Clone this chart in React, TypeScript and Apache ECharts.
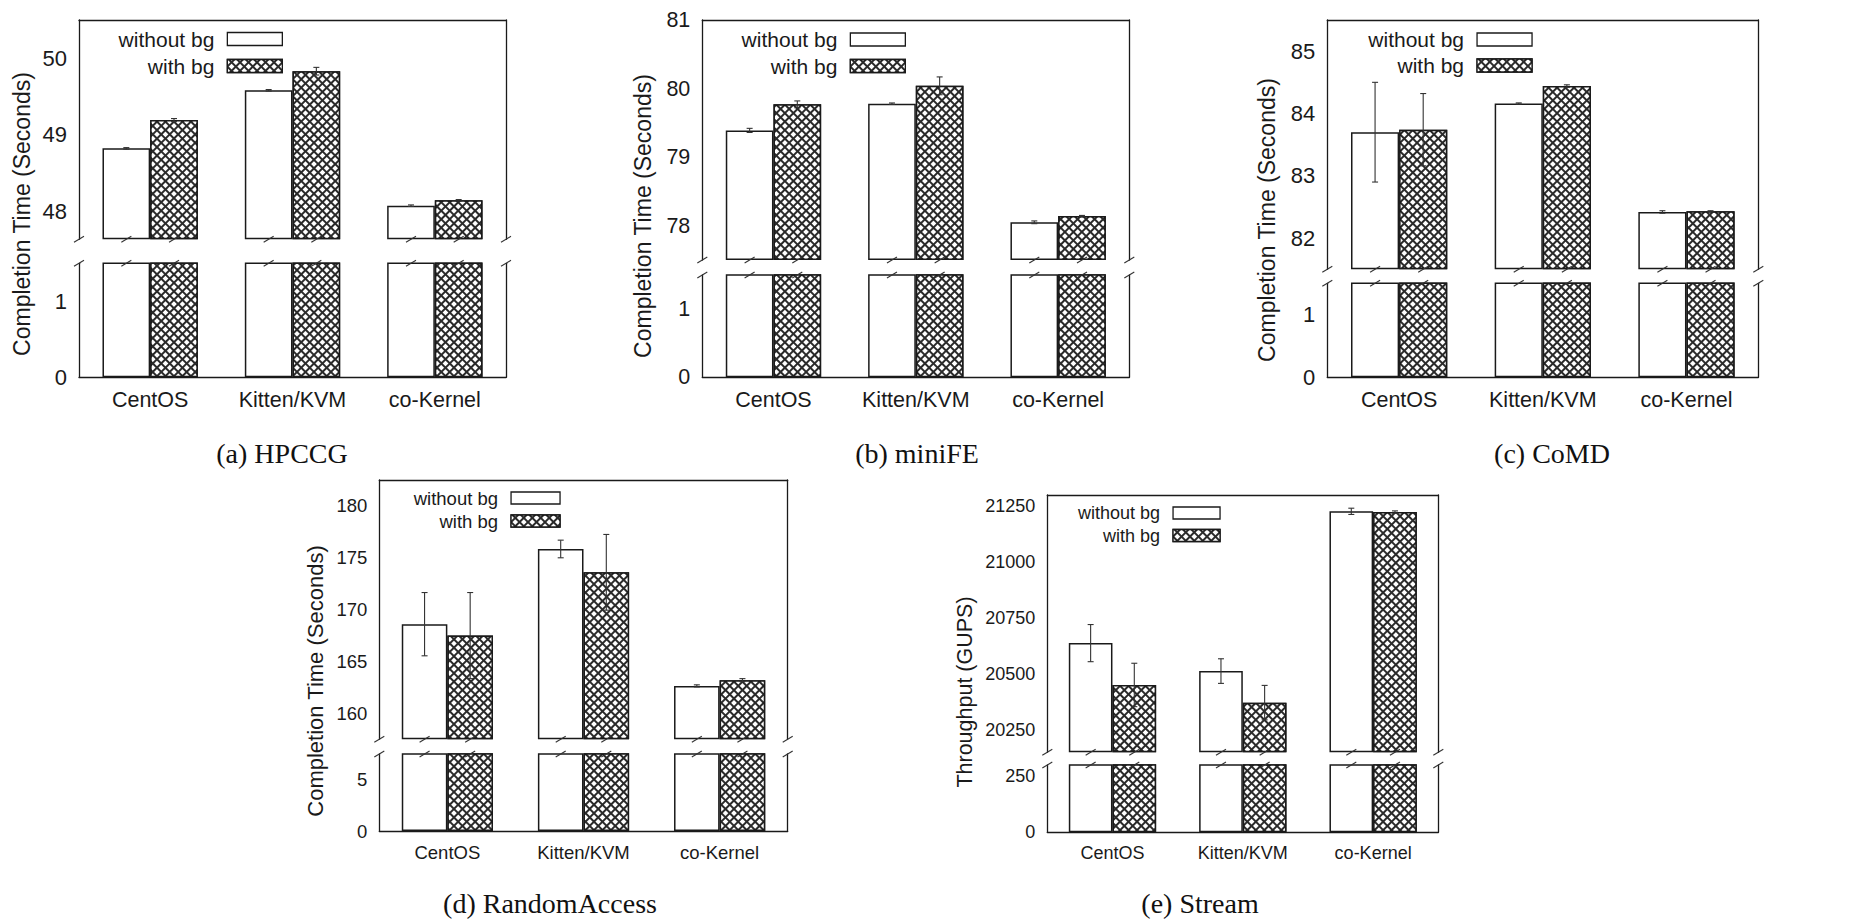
import React, { useEffect, useRef } from 'react';
import * as echarts from 'echarts';

// ---------- data ----------
const categories = ['CentOS', 'Kitten/KVM', 'co-Kernel'];
const seriesNames = ['without bg', 'with bg'];

// (a) HPCCG
const hpccgWithout = [48.82, 49.58, 48.07];
const hpccgWithoutErr = [0.01, 0.01, 0.01];
const hpccgWith = [49.19, 49.83, 48.14];
const hpccgWithErr = [0.02, 0.05, 0.01];
const hpccgUpperRange = [47.63, 50.5];
const hpccgLowerRange = [0, 1.5];
const hpccgUpperTicks = [48, 49, 50];
const hpccgLowerTicks = [0, 1];

// (b) miniFE
const minifeWithout = [79.39, 79.78, 78.05];
const minifeWithoutErr = [0.03, 0.01, 0.02];
const minifeWith = [79.77, 80.04, 78.14];
const minifeWithErr = [0.05, 0.13, 0.01];
const minifeUpperRange = [77.5, 81];
const minifeLowerRange = [0, 1.5];
const minifeUpperTicks = [78, 79, 80, 81];
const minifeLowerTicks = [0, 1];

// (c) CoMD
const comdWithout = [83.7, 84.16, 82.42];
const comdWithoutErr = [0.8, 0.01, 0.02];
const comdWith = [83.74, 84.44, 82.43];
const comdWithErr = [0.58, 0.02, 0.01];
const comdUpperRange = [81.5, 85.5];
const comdLowerRange = [0, 1.5];
const comdUpperTicks = [82, 83, 84, 85];
const comdLowerTicks = [0, 1];

// (d) RandomAccess
const raWithout = [168.6, 175.85, 162.65];
const raWithoutErr = [3.05, 0.85, 0.1];
const raWith = [167.5, 173.6, 163.2];
const raWithErr = [4.15, 3.65, 0.15];
const raUpperRange = [157.5, 182.5];
const raLowerRange = [0, 7.5];
const raUpperTicks = [160, 165, 170, 175, 180];
const raLowerTicks = [0, 5];

// (e) Stream
const streamWithout = [20638, 20513, 21227];
const streamWithoutErr = [83, 55, 14];
const streamWith = [20451, 20372, 21224];
const streamWithErr = [97, 77, 5];
const streamUpperRange = [20150, 21300];
const streamLowerRange = [0, 300];
const streamUpperTicks = [20250, 20500, 20750, 21000, 21250];
const streamLowerTicks = [0, 250];

const panels = [
  { caption: '(a) HPCCG', yTitle: 'Completion Time (Seconds)', without: hpccgWithout, withoutErr: hpccgWithoutErr, withBg: hpccgWith, withErr: hpccgWithErr, upperRange: hpccgUpperRange, lowerRange: hpccgLowerRange, upperTicks: hpccgUpperTicks, lowerTicks: hpccgLowerTicks },
  { caption: '(b) miniFE', yTitle: 'Completion Time (Seconds)', without: minifeWithout, withoutErr: minifeWithoutErr, withBg: minifeWith, withErr: minifeWithErr, upperRange: minifeUpperRange, lowerRange: minifeLowerRange, upperTicks: minifeUpperTicks, lowerTicks: minifeLowerTicks },
  { caption: '(c) CoMD', yTitle: 'Completion Time (Seconds)', without: comdWithout, withoutErr: comdWithoutErr, withBg: comdWith, withErr: comdWithErr, upperRange: comdUpperRange, lowerRange: comdLowerRange, upperTicks: comdUpperTicks, lowerTicks: comdLowerTicks },
  { caption: '(d) RandomAccess', yTitle: 'Completion Time (Seconds)', without: raWithout, withoutErr: raWithoutErr, withBg: raWith, withErr: raWithErr, upperRange: raUpperRange, lowerRange: raLowerRange, upperTicks: raUpperTicks, lowerTicks: raLowerTicks },
  { caption: '(e) Stream', yTitle: 'Throughput (GUPS)', without: streamWithout, withoutErr: streamWithoutErr, withBg: streamWith, withErr: streamWithErr, upperRange: streamUpperRange, lowerRange: streamLowerRange, upperTicks: streamUpperTicks, lowerTicks: streamLowerTicks },
];

// ---------- layout ----------
const W = 1873;
const H = 924;
const layouts = [
  { left: 79, right: 506, top: 20, upperBottom: 239.3, lowerTop: 263.3, bottom: 377.3, titleX: 22, titleY: 214, titleFs: 23, capX: 282, capY: 453, legRight: 283, legTop: 28.5, legW: 55, legH: 13, legGap: 6, fs: 21.5, tickFs: 22, legFs: 21 },
  { left: 702.3, right: 1129.3, top: 20, upperBottom: 260, lowerTop: 275, bottom: 377.3, titleX: 643, titleY: 216, titleFs: 23, capX: 917, capY: 453, legRight: 906, legTop: 29, legW: 55, legH: 13, legGap: 5.5, fs: 21.5, tickFs: 21.5, legFs: 21 },
  { left: 1327.3, right: 1758.3, top: 20, upperBottom: 269.3, lowerTop: 283.3, bottom: 377.3, titleX: 1267, titleY: 220, titleFs: 23, capX: 1552, capY: 453, legRight: 1532.7, legTop: 29, legW: 55, legH: 13, legGap: 5, fs: 21.5, tickFs: 22, legFs: 21 },
  { left: 379.3, right: 787.7, top: 480, upperBottom: 739.3, lowerTop: 754, bottom: 831, titleX: 315.5, titleY: 681, titleFs: 22, capX: 550, capY: 903, legRight: 560.7, legTop: 488, legW: 49, legH: 12, legGap: 3, fs: 18.5, tickFs: 18.5, legFs: 18.5 },
  { left: 1047.3, right: 1438.3, top: 495, upperBottom: 752.3, lowerTop: 765, bottom: 832.3, titleX: 965, titleY: 692, titleFs: 21.5, capX: 1200, capY: 903, legRight: 1220.7, legTop: 503, legW: 47, legH: 12, legGap: 2.5, fs: 18, tickFs: 18, legFs: 18 },
];

const BAR_RATIO = 0.335;
const FONT = "'Liberation Sans', Arial, Helvetica, sans-serif";
const SERIF = "'Liberation Serif', 'Times New Roman', serif";
const INK = '#1a1a1a';

const hatch = {
  symbol: 'rect',
  symbolSize: 1,
  color: '#ffffff',
  dashArrayX: [3.8, 1.6],
  dashArrayY: [3.8, 1.6],
  rotation: Math.PI / 4,
};

const withoutStyle = { color: '#ffffff', borderColor: INK, borderWidth: 1.5 };
const withStyle = { color: '#2a2a2a', borderColor: INK, borderWidth: 1.5, decal: hatch };

function buildOption() {
  const grid: any[] = [];
  const xAxis: any[] = [];
  const yAxis: any[] = [];
  const series: any[] = [];
  const legend: any[] = [];
  const graphic: any[] = [];

  panels.forEach((p, k) => {
    const L = layouts[k];
    const width = L.right - L.left;
    grid.push({ left: L.left, top: L.top, width, height: L.upperBottom - L.top, outerBoundsMode: 'none', containLabel: false });
    grid.push({ left: L.left, top: L.lowerTop, width, height: L.bottom - L.lowerTop, outerBoundsMode: 'none', containLabel: false });

    const lineStyle = { color: INK, width: 1.3 };
    xAxis.push({
      type: 'category', gridIndex: 2 * k, data: categories, position: 'top', boundaryGap: true,
      axisLine: { show: true, onZero: false, lineStyle }, axisTick: { show: false }, axisLabel: { show: false }, splitLine: { show: false },
    });
    xAxis.push({
      type: 'category', gridIndex: 2 * k + 1, data: categories, position: 'bottom', boundaryGap: true,
      axisLine: { show: true, onZero: false, lineStyle }, axisTick: { show: false },
      axisLabel: { show: true, color: INK, fontFamily: FONT, fontSize: L.fs, margin: 12, interval: 0 },
      splitLine: { show: false },
    });

    const labelCommon = {
      show: true, color: INK, fontFamily: FONT, fontSize: L.tickFs, margin: 12,
      formatter: (v: number) => String(v),
    };
    yAxis.push({
      type: 'value', gridIndex: 2 * k, min: p.upperRange[0], max: p.upperRange[1], startValue: p.upperRange[0],
      axisLine: { show: true, onZero: false, lineStyle }, axisTick: { show: false },
      axisLabel: { ...labelCommon, customValues: p.upperTicks },
      splitLine: { show: false },
    });
    yAxis.push({
      type: 'value', gridIndex: 2 * k, position: 'right', min: 0, max: 1,
      axisLine: { show: true, onZero: false, lineStyle }, axisTick: { show: false }, axisLabel: { show: false }, splitLine: { show: false },
    });
    yAxis.push({
      type: 'value', gridIndex: 2 * k + 1, min: p.lowerRange[0], max: p.lowerRange[1],
      axisLine: { show: true, onZero: false, lineStyle }, axisTick: { show: false },
      axisLabel: { ...labelCommon, customValues: p.lowerTicks },
      splitLine: { show: false },
    });
    yAxis.push({
      type: 'value', gridIndex: 2 * k + 1, position: 'right', min: 0, max: 1,
      axisLine: { show: true, onZero: false, lineStyle }, axisTick: { show: false }, axisLabel: { show: false }, splitLine: { show: false },
    });

    const ux = 2 * k, lx = 2 * k + 1, uy = 4 * k, ly = 4 * k + 2;
    const barCommon = { type: 'bar', barWidth: (BAR_RATIO * 100) + '%', barGap: '0%', clip: true, z: 2 };
    series.push({ ...barCommon, name: seriesNames[0], xAxisIndex: ux, yAxisIndex: uy, data: p.without, itemStyle: withoutStyle });
    series.push({ ...barCommon, name: seriesNames[1], xAxisIndex: ux, yAxisIndex: uy, data: p.withBg, itemStyle: withStyle });
    series.push({ ...barCommon, name: seriesNames[0], xAxisIndex: lx, yAxisIndex: ly, data: p.without, itemStyle: withoutStyle });
    series.push({ ...barCommon, name: seriesNames[1], xAxisIndex: lx, yAxisIndex: ly, data: p.withBg, itemStyle: withStyle });

    [
      { vals: p.without, errs: p.withoutErr, sign: -1 },
      { vals: p.withBg, errs: p.withErr, sign: 1 },
    ].forEach((s) => {
      series.push({
        type: 'custom', xAxisIndex: ux, yAxisIndex: uy, z: 6, silent: true,
        dimensions: ['cat', 'mean', 'err'], encode: { x: 0, y: 1 },
        data: s.vals.map((v, i) => [i, v, s.errs[i]]),
        renderItem: (params: any, api: any) => {
          const i = api.value(0), m = api.value(1), e = api.value(2);
          const bw = api.size([1, 0])[0] * BAR_RATIO;
          const x = api.coord([i, m])[0] + s.sign * bw / 2;
          const yT = api.coord([i, m + e])[1];
          const yB = api.coord([i, m - e])[1];
          const cap = 3;
          const st = { stroke: '#333', lineWidth: 1.1 };
          return {
            type: 'group',
            children: [
              { type: 'line', shape: { x1: x, y1: yT, x2: x, y2: yB }, style: st },
              { type: 'line', shape: { x1: x - cap, y1: yT, x2: x + cap, y2: yT }, style: st },
              { type: 'line', shape: { x1: x - cap, y1: yB, x2: x + cap, y2: yB }, style: st },
            ],
          };
        },
      });
    });

    [
      { xi: ux, yi: uy, upper: true, edge: p.upperRange[0] },
      { xi: lx, yi: ly, upper: false, edge: p.lowerRange[1] },
    ].forEach((b) => {
      series.push({
        type: 'custom', xAxisIndex: b.xi, yAxisIndex: b.yi, z: 7, silent: true, clip: false,
        dimensions: ['cat', 'edge'], encode: { x: 0, y: 1 },
        data: categories.map((_, i) => [i, b.edge]),
        renderItem: (params: any, api: any) => {
          const i = api.value(0);
          const cs = params.coordSys;
          const yE = b.upper ? cs.y + cs.height : cs.y;
          const c = api.coord([i, api.value(1)])[0];
          const bw = api.size([1, 0])[0] * BAR_RATIO;
          const xs = [c - bw / 2, c + bw / 2];
          if (i === 0) xs.push(cs.x);
          if (i === categories.length - 1) xs.push(cs.x + cs.width);
          return {
            type: 'group',
            children: xs.map((x) => ({
              type: 'line',
              shape: { x1: x - 5, y1: yE + 3, x2: x + 5, y2: yE - 3 },
              style: { stroke: '#333', lineWidth: 1.1 },
            })),
          };
        },
      });
    });

    legend.push({
      orient: 'vertical', align: 'right', right: W - L.legRight, top: L.legTop, padding: 0,
      itemWidth: L.legW, itemHeight: L.legH, itemGap: L.legGap, selectedMode: false, icon: 'rect',
      textStyle: { fontFamily: FONT, fontSize: L.legFs, color: INK, lineHeight: 20, padding: [0, 8, 0, 0] },
      data: [
        { name: seriesNames[0], icon: 'rect', itemStyle: { color: '#ffffff', borderColor: INK, borderWidth: 1.3 } },
        { name: seriesNames[1], icon: 'rect', itemStyle: { borderColor: INK, borderWidth: 1.3 } },
      ],
    });

    graphic.push({
      type: 'text', x: L.titleX, y: L.titleY, rotation: Math.PI / 2, silent: true,
      style: { text: p.yTitle, fontFamily: FONT, fontSize: L.titleFs, fill: INK, align: 'center', verticalAlign: 'middle' },
    });
    graphic.push({
      type: 'text', x: L.capX, y: L.capY, silent: true,
      style: { text: p.caption, fontFamily: SERIF, fontSize: 28, fill: '#111', align: 'center', verticalAlign: 'middle' },
    });
  });

  return {
    animation: false,
    backgroundColor: '#ffffff',
    textStyle: { fontFamily: FONT },
    grid, xAxis, yAxis, series, legend, graphic,
  };
}

export default function App() {
  const ref = useRef<HTMLDivElement | null>(null);
  useEffect(() => {
    if (!ref.current) return;
    const chart = echarts.init(ref.current, undefined, { renderer: 'svg' });
    chart.setOption(buildOption() as any);
    return () => chart.dispose();
  }, []);
  return (
    <div
      ref={ref}
      style={{ position: 'fixed', left: 0, top: 0, width: W, height: H, background: '#fff' }}
    />
  );
}
